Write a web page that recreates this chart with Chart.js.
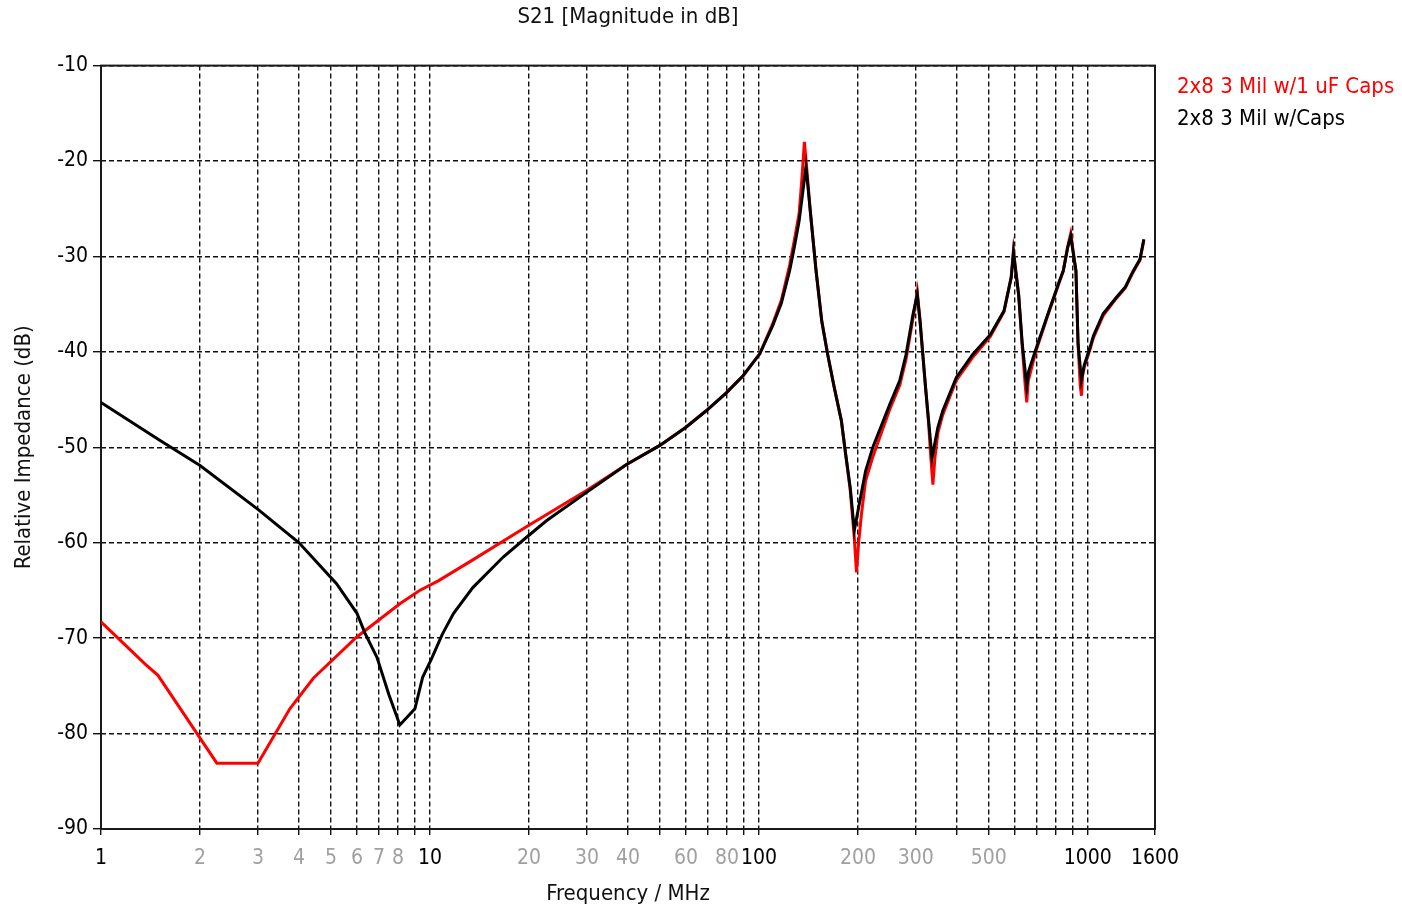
<!DOCTYPE html>
<html>
<head>
<meta charset="utf-8">
<title>S21 [Magnitude in dB]</title>
<script src="https://cdn.jsdelivr.net/npm/chart.js@4.4.1/dist/chart.umd.min.js"></script>
<style>
  html, body { margin: 0; padding: 0; background: #fff; }
  #wrap { width: 1402px; height: 907px; position: relative; }
</style>
</head>
<body>
<div id="wrap"><canvas id="c" width="1402" height="907"></canvas></div>
<script>
// Frequency (MHz) and S21 magnitude (dB) for the board with plain caps
const freqCaps = [1, 1.5, 2, 3, 4, 5.2, 6, 6.35, 6.9, 7.5, 8.1, 9.0, 9.5, 10.1, 10.9, 11.8, 13.5, 16.7, 19.7, 22.6,
  30, 39.6, 50, 60, 69, 79.6, 89.5, 100.6, 110, 117, 124, 128, 132.5, 136, 139, 141, 144.3, 149.2, 155.3, 161.9,
  169.4, 178.1, 183.5, 189.5, 195, 202, 211, 222, 250, 268, 280, 294, 303, 309, 321, 328, 336, 350, 362, 398, 446,
  505, 556, 585, 594, 616, 632, 652, 661, 697, 762, 819, 842, 868, 887, 920, 934, 956, 975, 1014, 1040, 1113, 1220,
  1300, 1370, 1440, 1480];
const dbCaps = [-45.3, -49.2, -51.9, -56.5, -60.0, -64.3, -67.4, -69.5, -72.0, -75.9, -79.1, -77.4, -74.1, -72.2,
  -69.6, -67.4, -64.7, -61.5, -59.4, -57.7, -54.7, -51.8, -49.8, -47.9, -46.2, -44.3, -42.5, -40.2, -37.3, -34.9,
  -31.5, -29.1, -26.3, -23.2, -20.6, -22.7, -26.3, -31.5, -36.8, -40.3, -43.7, -47.2, -50.7, -54.2, -58.7, -55.9,
  -52.5, -50.0, -45.5, -43.0, -40.3, -36.1, -34.0, -36.8, -43.7, -47.2, -51.1, -47.9, -46.2, -42.7, -40.3, -38.2,
  -35.7, -32.2, -29.6, -34.0, -39.2, -43.6, -42.0, -39.6, -35.7, -32.6, -31.5, -29.1, -27.9, -31.5, -39.2, -42.9,
  -41.4, -39.6, -38.3, -36.0, -34.3, -33.2, -31.6, -30.3, -28.2];

// Frequency (MHz) and S21 magnitude (dB) for the board with 1 uF caps
const freq1uF = [1, 1.36, 1.49, 2.25, 3.0, 3.75, 4.42, 5.98, 8.1, 9.3, 10.6, 13.5, 19.7, 30, 39.6, 50, 60, 69,
  79.6, 89.5, 100.6, 110, 117, 124, 128, 132.5, 135, 137.5, 140, 143, 149.2, 155.3, 161.9, 169.4, 178.1, 183.5,
  189.5, 195, 198, 201, 205, 211, 222, 250, 268, 280, 294, 303, 309, 321, 328, 333, 338, 343, 350, 362, 398, 446,
  505, 556, 585, 594, 616, 632, 645, 652, 659, 697, 762, 819, 842, 868, 887, 920, 934, 948, 956, 964, 975, 1014,
  1040, 1113, 1220, 1300, 1370, 1440, 1480];
const db1uF = [-68.3, -72.7, -73.9, -83.1, -83.1, -77.4, -74.2, -69.9, -66.4, -65.0, -64.0, -61.8, -58.3, -54.5,
  -51.8, -49.8, -47.9, -46.2, -44.3, -42.5, -40.2, -37.1, -34.6, -30.9, -28.4, -25.5, -22.0, -18.0, -21.0, -25.0,
  -31.5, -36.8, -40.3, -43.7, -47.2, -50.7, -54.5, -59.5, -63.1, -60.0, -57.0, -53.5, -51.0, -46.0, -43.5, -40.8,
  -36.5, -33.7, -36.8, -43.7, -47.5, -51.0, -53.9, -51.0, -48.5, -46.6, -43.0, -40.6, -38.4, -35.8, -32.1, -29.4,
  -34.0, -39.5, -43.5, -45.3, -43.0, -39.8, -35.8, -32.7, -31.5, -29.0, -27.6, -31.5, -39.3, -43.5, -44.6, -42.5,
  -41.6, -39.8, -38.5, -36.2, -34.4, -33.3, -31.7, -30.4, -28.3];

// Log-axis grid positions, which of them carry a label, and which labels are dark
const xGridTicks = [1, 2, 3, 4, 5, 6, 7, 8, 9, 10, 20, 30, 40, 50, 60, 70, 80, 90, 100, 200, 300, 400, 500, 600,
  700, 800, 900, 1000, 1600];
const xLabelTicks = [1, 2, 3, 4, 5, 6, 7, 8, 10, 20, 30, 40, 60, 80, 100, 200, 300, 500, 1000, 1600];
const xDarkTicks = [1, 10, 100, 1000, 1600];

const seriesNames = ['2x8 3 Mil w/1 uF Caps', '2x8 3 Mil w/Caps'];
const seriesColors = ['#ff0000', '#000000'];

const FONT = '"DejaVu Sans Condensed", "DejaVu Sans", sans-serif';
Chart.defaults.font.family = FONT;
Chart.defaults.color = '#000';

const toPoints = (xs, ys) => xs.map((x, i) => ({ x: x, y: ys[i] }));

// Solid frame around the plotting area
const framePlugin = {
  id: 'frame',
  beforeDatasetsDraw(chart) {
    const { ctx, chartArea: a } = chart;
    ctx.save();
    ctx.strokeStyle = '#1a1a1a';
    ctx.lineWidth = 2;
    ctx.strokeRect(a.left, a.top, a.right - a.left, a.bottom - a.top);
    ctx.restore();
  }
};

// Coloured-text legend to the right of the plot
const textLegendPlugin = {
  id: 'textLegend',
  afterDraw(chart) {
    const { ctx, chartArea: a } = chart;
    ctx.save();
    ctx.font = '22px ' + FONT;
    ctx.textBaseline = 'middle';
    ctx.textAlign = 'left';
    seriesNames.forEach((name, i) => {
      ctx.fillStyle = seriesColors[i];
      ctx.fillText(name, a.right + 22, a.top + 22 + i * 32);
    });
    ctx.restore();
  }
};

const gridStyle = (len) => ({
  color: '#111',
  lineWidth: 1.4,
  tickLength: len,
  tickColor: '#111',
  tickWidth: 1.4,
  tickBorderDash: []
});

new Chart(document.getElementById('c'), {
  type: 'line',
  data: {
    datasets: [
      {
        label: seriesNames[1],
        data: toPoints(freqCaps, dbCaps),
        borderColor: seriesColors[1],
        borderWidth: 3,
        pointRadius: 0,
        tension: 0
      },
      {
        label: seriesNames[0],
        data: toPoints(freq1uF, db1uF),
        borderColor: seriesColors[0],
        borderWidth: 3,
        pointRadius: 0,
        tension: 0
      }
    ]
  },
  options: {
    responsive: false,
    animation: false,
    events: [],
    layout: { padding: { left: 0, right: 247, top: 0, bottom: 0 } },
    plugins: {
      legend: { display: false },
      tooltip: { enabled: false },
      title: {
        display: true,
        text: 'S21 [Magnitude in dB]',
        fullSize: false,
        color: '#111',
        font: { size: 22, weight: 'normal' },
        padding: { top: 4, bottom: 35.2 }
      }
    },
    scales: {
      x: {
        type: 'logarithmic',
        min: 1,
        max: 1600,
        afterBuildTicks(scale) {
          scale.ticks = xGridTicks.map(v => ({ value: v }));
        },
        afterFit(scale) { scale.height = 78; },
        ticks: {
          autoSkip: false,
          maxRotation: 0,
          minRotation: 0,
          padding: 11,
          font: { size: 21 },
          color: ctx => xDarkTicks.includes(ctx.tick.value) ? '#000' : '#a0a0a0',
          callback: v => xLabelTicks.includes(v) ? String(v) : ''
        },
        grid: gridStyle(6),
        border: { display: false, dash: [5, 3] },
        title: {
          display: true,
          text: 'Frequency / MHz',
          color: '#111',
          font: { size: 22 },
          padding: { top: 0, bottom: 0 }
        }
      },
      y: {
        type: 'linear',
        min: -90,
        max: -10,
        afterFit(scale) { scale.width = 101; },
        ticks: {
          stepSize: 10,
          padding: 5,
          font: { size: 21 },
          color: '#000'
        },
        grid: gridStyle(8),
        border: { display: false, dash: [5, 3] },
        title: {
          display: true,
          text: 'Relative Impedance (dB)',
          color: '#111',
          font: { size: 22 },
          padding: { top: 11, bottom: 0 }
        }
      }
    }
  },
  plugins: [framePlugin, textLegendPlugin]
});
</script>
</body>
</html>
